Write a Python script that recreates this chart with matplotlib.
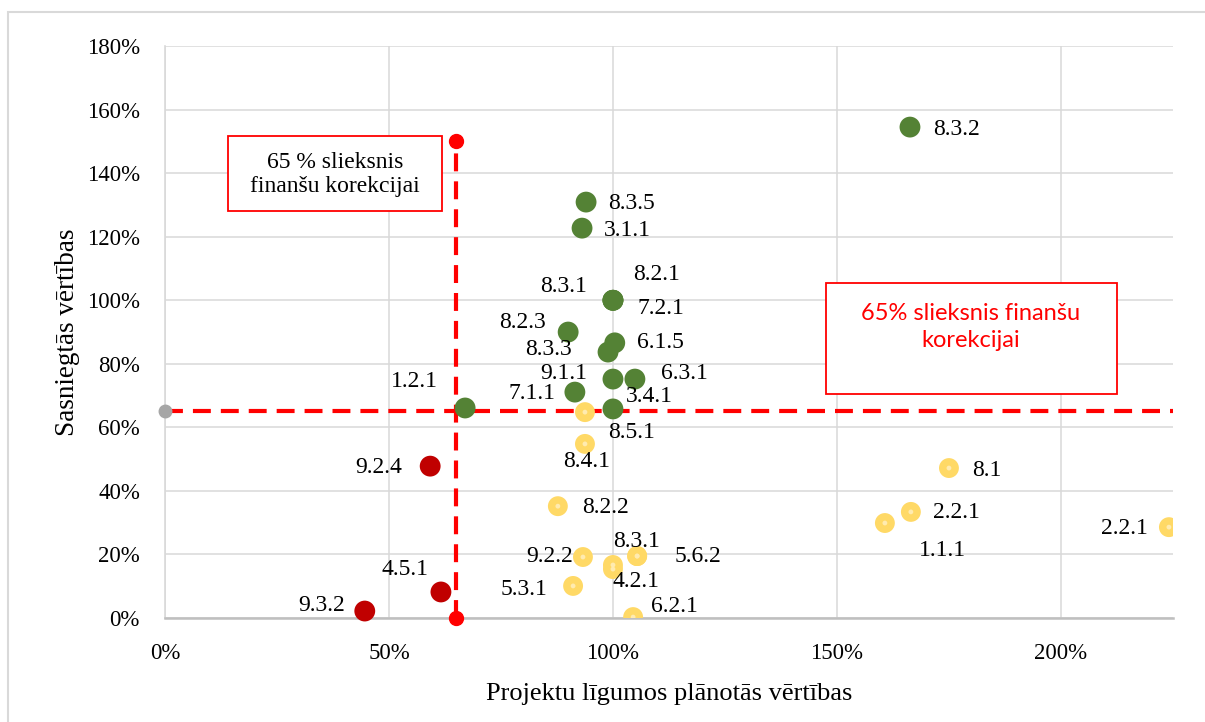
import matplotlib
matplotlib.use('Agg')
import matplotlib.pyplot as plt
from matplotlib.patches import Rectangle
from matplotlib.ticker import PercentFormatter

# dati: x = projektu līgumos plānotās vērtības, y = sasniegtās vērtības
green_x = [1.663, 0.940, 0.931, 1.0, 1.0, 1.0, 0.900, 1.004, 0.989, 1.0, 1.049, 0.915, 1.0, 0.670]
green_y = [1.545, 1.309, 1.227, 1.0, 1.0, 1.0, 0.900, 0.866, 0.837, 0.752, 0.752, 0.711, 0.658, 0.661]
green_labels = ['8.3.2', '8.3.5', '3.1.1', '8.2.1', '8.3.1', '7.2.1', '8.2.3', '6.1.5',
                '8.3.3', '9.1.1', '6.3.1', '7.1.1', '3.4.1', '1.2.1']

yellow_x = [0.9375, 0.9375, 0.877, 0.933, 1.054, 1.054, 1.0, 1.0, 0.911, 1.045,
            1.750, 1.665, 1.607, 2.241]
yellow_y = [0.648, 0.548, 0.352, 0.192, 0.195, 0.195, 0.167, 0.154, 0.101, 0.003,
            0.472, 0.334, 0.299, 0.286]
yellow_labels = ['8.5.1', '8.4.1', '8.2.2', '9.2.2', '8.3.1', '5.6.2', '4.2.1', '', '5.3.1',
                 '6.2.1', '8.1', '2.2.1', '1.1.1', '2.2.1']

red_x = [0.592, 0.616, 0.446]
red_y = [0.478, 0.082, 0.022]
red_labels = ['9.2.4', '4.5.1', '9.3.2']

threshold = 0.65
vline_top = 1.5
x_max = 2.25
y_max = 1.8

# etiķešu novietojums (pikseļos no punkta) un līdzinājums
green_offsets = [(23, -2, 'left'), (22, -1, 'left'), (22, -2, 'left'), (20, 26, 'left'),
                 (-26, 14, 'right'), (25, -8, 'left'), (-22, 10, 'right'), (22, 0, 'left'),
                 (-36, 3, 'right'), (-26, 6, 'right'), (26, 6, 'left'), (-19, -1, 'right'),
                 (13, 12, 'left'), (-27, 26, 'right')]
yellow_offsets = [(23, -20, 'left'), (25, -18, 'right'), (24, -1, 'left'), (-10, 1, 'right'),
                  (-1, 15, 'center'), (37, 0, 'left'), (0, -17, 'left'), (0, 0, 'left'),
                  (-26, -4, 'right'), (18, 11, 'left'), (23, -2, 'left'), (22, -1, 'left'),
                  (58, -27, 'center'), (-21, -1, 'right')]
red_offsets = [(-28, -1, 'right'), (-12, 22, 'right'), (-20, 6, 'right')]

plt.rcParams['font.family'] = ['Liberation Serif', 'DejaVu Serif']

fig = plt.figure(figsize=(12.05, 7.22), dpi=100)
ax = fig.add_axes([0.1369, 0.1440, 0.8365, 0.7922])

# ārējais rāmis
fig.patches.append(Rectangle((8 / 1205, -0.1), 1.2, (722 - 12) / 722 + 0.1,
                             transform=fig.transFigure, fill=False,
                             edgecolor='#D9D9D9', lw=1.5))

ax.set_xlim(0, x_max)
ax.set_ylim(0, y_max)
ax.set_xticks([0, 0.5, 1.0, 1.5, 2.0])
ax.set_yticks([i * 0.2 for i in range(10)])
ax.xaxis.set_major_formatter(PercentFormatter(1.0, decimals=0))
ax.yaxis.set_major_formatter(PercentFormatter(1.0, decimals=0))
ax.grid(True, color='#D9D9D9', lw=1.1)
ax.set_axisbelow(True)
for s in ['top', 'right']:
    ax.spines[s].set_visible(False)
ax.spines['left'].set_color('#D9D9D9')
ax.spines['left'].set_linewidth(1.2)
ax.spines['bottom'].set_color('#BFBFBF')
ax.spines['bottom'].set_linewidth(1.8)
ax.tick_params(length=0, labelsize=16.5)
ax.tick_params(axis='y', pad=18)
ax.tick_params(axis='x', pad=18)

ax.set_xlabel('Projektu līgumos plānotās vērtības', fontsize=19, labelpad=14)
ax.set_ylabel('Sasniegtās vērtības', fontsize=19.5, labelpad=5)

# sliekšņa līnijas
ax.plot([threshold, threshold], [0, vline_top], color='#FF0000', lw=3,
        dashes=(4.3, 2.4), zorder=3)
ax.plot([threshold, threshold], [0, vline_top], ls='none', marker='o',
        markersize=10, color='#FF0000', zorder=3, clip_on=False)
ax.plot([0, x_max], [threshold, threshold], color='#FF0000', lw=3,
        dashes=(4.3, 2.4), zorder=3)
ax.plot([0], [threshold], ls='none', marker='o', markersize=9,
        color='#A6A6A6', zorder=4, clip_on=False)

# punkti
ax.scatter(green_x, green_y, s=225, color='#548235', edgecolors='none', zorder=5)
ax.scatter(yellow_x, yellow_y, s=205, color='#FFD966', edgecolors='none', zorder=5)
ax.scatter(yellow_x, yellow_y, s=12, color='#FFEBB0', edgecolors='none', zorder=6)
ax.scatter(red_x, red_y, s=225, color='#C00000', edgecolors='none', zorder=5,
           clip_on=False)


def put_labels(xs, ys, labels, offsets):
    for x, y, lab, (dx, dy, ha) in zip(xs, ys, labels, offsets):
        if lab:
            ax.annotate(lab, (x, y), xytext=(dx, dy), textcoords='offset pixels',
                        ha=ha, va='center', fontsize=17, zorder=7)


put_labels(green_x, green_y, green_labels, green_offsets)
put_labels(yellow_x, yellow_y, yellow_labels, yellow_offsets)
put_labels(red_x, red_y, red_labels, red_offsets)

# teksta lodziņi
ax.add_patch(Rectangle((0.0625, 0.7115), 0.2123, 0.1312, transform=ax.transAxes,
                       fill=True, facecolor='white', edgecolor='#FF0000', lw=1.3, zorder=8))
ax.text(0.1687, 0.775, '65 % slieksnis\nfinanšu korekcijai', transform=ax.transAxes,
        ha='center', va='center', fontsize=17, linespacing=1.2, zorder=9)

ax.add_patch(Rectangle((0.6558, 0.3916), 0.2886, 0.1941, transform=ax.transAxes,
                       fill=True, facecolor='white', edgecolor='#FF0000', lw=1.3, zorder=8))
ax.text(0.7996, 0.5096, '65% slieksnis finanšu\nkorekcijai', transform=ax.transAxes,
        ha='center', va='center', fontsize=17, linespacing=1.35, color='#FF0000',
        family=['Lato', 'DejaVu Sans'], zorder=9)

plt.savefig('out.png', dpi=100)
